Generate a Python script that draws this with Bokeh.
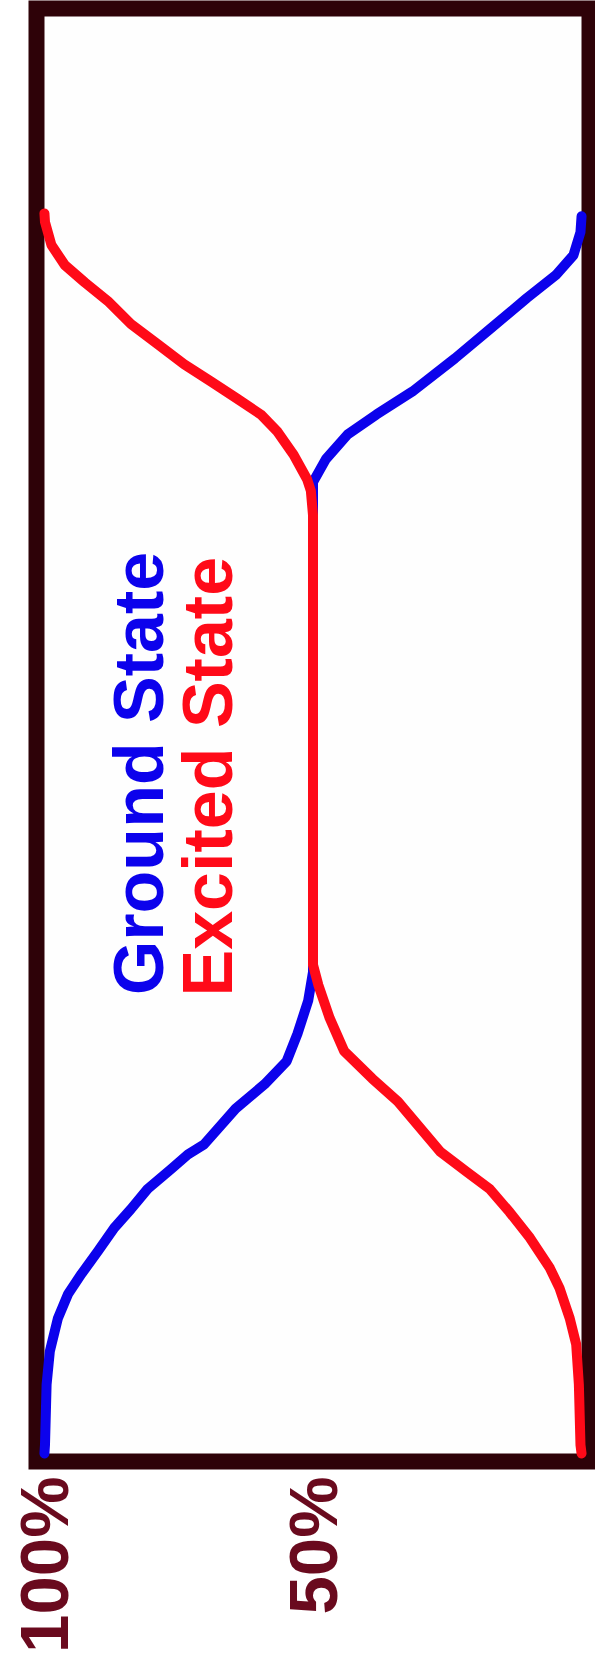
from bokeh.plotting import figure
from bokeh.models import Range1d, FixedTicker, PrintfTickFormatter
from bokeh.core.properties import value
from bokeh.embed import file_html
from bokeh.resources import INLINE
import math

# Population of each level (%) versus time (arbitrary units, 0 = start, 100 = end)
ground_time = [0, 0.6, 4.8, 7.1, 9.4, 11.1, 12.5, 14.1, 15.7, 17.0, 18.4, 19.8, 20.8,
               21.5, 24.0, 25.7, 27.3, 29.2, 31.5, 33.5, 50.0, 67.6, 69.2, 70.9, 72.3,
               73.9, 76.2, 78.3, 80.4, 82.0, 83.4, 85.0, 86.1]
ground_pct = [100, 99.9, 99.6, 99.0, 97.5, 95.6, 93.1, 90.0, 87.0, 83.9, 80.8, 76.4, 73.3,
              70.3, 64.4, 59.0, 54.9, 52.9, 50.9, 50.0, 50.0, 50.0, 47.6, 43.6, 38.2,
              31.5, 23.6, 16.9, 10.2, 4.8, 1.5, 0.2, 0]

excited_time = [0, 0.6, 4.8, 7.6, 9.4, 11.5, 12.9, 15.0, 16.8, 18.4, 19.6, 21.0, 24.5,
                26.1, 28.0, 30.3, 32.6, 34.0, 50.0, 65.3, 67.0, 67.8, 69.5, 71.1, 72.3,
                73.4, 74.6, 75.8, 77.2, 78.6, 80.2, 81.5, 82.7, 84.1, 85.7, 86.3]
excited_pct = [0, 0.2, 0.5, 1.0, 2.2, 4.1, 5.9, 9.6, 13.4, 17.1, 21.4, 26.3, 34.2,
               39.0, 44.2, 46.9, 49.0, 50.0, 50.0, 50.0, 50.4, 51.1, 53.6, 56.6, 59.7,
               64.1, 69.0, 74.0, 78.9, 83.9, 88.2, 92.5, 96.2, 98.7, 99.9, 100]

tick_values = [100, 50]
series_names = ["Ground State", "Excited State"]
series_colors = ["#0c02ec", "#ff0a18"]
label_pos = [(82.4, 31.9), (69.6, 31.8)]

FRAME = "#2e0208"
LABEL = "#6a0a1e"

p = figure(width=595, height=1667, output_backend="svg", toolbar_location=None,
           x_range=Range1d(101.48, -1.48), y_range=Range1d(-0.56, 100.56),
           x_axis_location="below", y_axis_location=None,
           min_border_left=36, min_border_right=6, min_border_top=8,
           min_border_bottom=206)

p.background_fill_color = "#fefefe"
p.border_fill_color = "#ffffff"
p.outline_line_color = FRAME
p.outline_line_width = 16
p.outline_line_join = "miter"
p.xgrid.visible = False
p.ygrid.visible = False

ax = p.xaxis[0]
ax.ticker = FixedTicker(ticks=tick_values)
ax.formatter = PrintfTickFormatter(format="%d%%")
ax.major_label_orientation = math.pi / 2
ax.major_label_standoff = 9
ax.major_label_text_font = "Liberation Sans"
ax.major_label_text_font_style = "bold"
ax.major_label_text_font_size = "69px"
ax.major_label_text_color = LABEL
ax.axis_line_color = None
ax.major_tick_line_color = None
ax.minor_tick_line_color = None

p.line(ground_pct, ground_time, line_color=series_colors[0], line_width=10,
       line_join="round", line_cap="round")
p.line(excited_pct, excited_time, line_color=series_colors[1], line_width=10,
       line_join="round", line_cap="round")

for name, color, (lx, ly) in zip(series_names, series_colors, label_pos):
    p.text(x=[lx], y=[ly], text=[name], angle=math.pi / 2,
           text_font=value("Liberation Sans"), text_font_style="bold",
           text_font_size="70px", text_color=color,
           text_align="left", text_baseline="alphabetic")

open("out.html", "w").write(file_html(p, INLINE))
